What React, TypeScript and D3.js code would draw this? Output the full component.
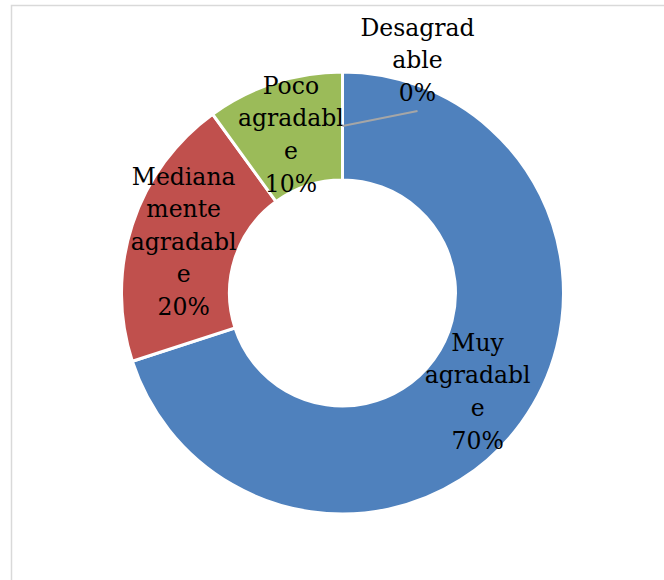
import React from "react";
import * as d3 from "d3";

const categories = ["Muy agradable", "Medianamente agradable", "Poco agradable", "Desagradable"];
const values = [70, 20, 10, 0];
const percentLabels = ["70%", "20%", "10%", "0%"];
const labelLines = [
  ["Muy", "agradabl", "e"],
  ["Mediana", "mente", "agradabl", "e"],
  ["Poco", "agradabl", "e"],
  ["Desagrad", "able"],
];
const colors = ["#4F81BD", "#C0504D", "#9BBB59", "#8064A2"];

const W = 664;
const H = 580;
const cx = 342.5;
const cy = 293;
const outerR = 221;
const innerR = 113;
const fontSize = 23.5;
const lineH = 32.6;

export default function App() {
  const pie = d3.pie<number>().value((d) => d).sort(null);
  const arcs = pie(values);
  const arc = d3.arc<d3.PieArcDatum<number>>().innerRadius(innerR).outerRadius(outerR);
  const midArc = d3.arc<d3.PieArcDatum<number>>().innerRadius((innerR + outerR) / 2).outerRadius((innerR + outerR) / 2);

  return (
    <svg width={W} height={H} style={{ position: "absolute", left: 0, top: 0, background: "#fff" }}>
      <rect x={11.5} y={5.5} width={800} height={800} fill="#fff" stroke="#d9d9d9" strokeWidth={1.5} />
      <g transform={`translate(${cx},${cy})`}>
        {arcs.map((a, i) =>
          a.value > 0 ? (
            <path key={categories[i]} d={arc(a) || ""} fill={colors[i]} stroke="#fff" strokeWidth={3} />
          ) : null
        )}
        {arcs.map((a, i) => {
          const [mx, my] = midArc.centroid(a);
          const outside = a.value === 0;
          const lines = [...labelLines[i], percentLabels[i]];
          let bx = mx;
          let by = my;
          let leader = null;
          if (outside) {
            const ex = mx + 75;
            const ey = my - 15;
            leader = <line x1={mx} y1={my} x2={ex} y2={ey} stroke="#a6a6a6" strokeWidth={2} />;
            bx = ex;
            by = my - 66;
          }
          const top = by - (lines.length * lineH) / 2 + lineH / 2;
          return (
            <g key={"lbl" + i}>
              {leader}
              <text
                textAnchor="middle"
                fontFamily="'DejaVu Serif', serif"
                fontSize={fontSize}
                fill="#000"
              >
                {lines.map((t, j) => (
                  <tspan key={j} x={bx} y={top + j * lineH + fontSize * 0.36}>
                    {t}
                  </tspan>
                ))}
              </text>
            </g>
          );
        })}
      </g>
    </svg>
  );
}
